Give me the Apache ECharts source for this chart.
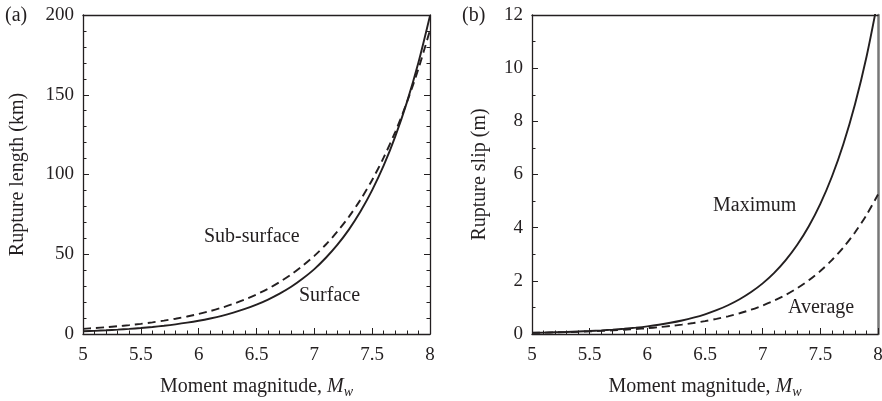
<!DOCTYPE html>
<html>
<head>
<meta charset="utf-8">
<script src="https://cdn.jsdelivr.net/npm/echarts@6/dist/echarts.min.js"></script>
<style>html,body{margin:0;padding:0;background:#fff;}#c{width:882px;height:401px;}</style>
</head>
<body>
<div id="c"></div>
<script>
const magnitudes = [5.0,5.1,5.2,5.3,5.4,5.5,5.6,5.7,5.8,5.9,6.0,6.1,6.2,6.3,6.4,6.5,6.6,6.7,6.8,6.9,7.0,7.1,7.2,7.3,7.4,7.5,7.6,7.7,7.8,7.9,8.0];
const surfaceLength = [1.70,1.99,2.33,2.74,3.21,3.76,4.41,5.16,6.05,7.10,8.32,9.75,11.4,13.4,15.7,18.4,21.6,25.3,29.6,34.8,40.7,47.8,56.0,65.6,76.9,90.2,105.7,123.9,145.2,170.2,199.5];
const subsurfaceLength = [3.24,3.71,4.25,4.86,5.57,6.38,7.31,8.38,9.59,11.0,12.6,14.4,16.5,18.9,21.7,24.8,28.4,32.6,37.3,42.8,49.0,56.1,64.3,73.6,84.3,96.6,110.7,126.8,145.2,166.3,190.5];
const maxSlip = [0.044,0.053,0.064,0.077,0.093,0.112,0.136,0.164,0.198,0.239,0.288,0.348,0.421,0.508,0.614,0.741,0.895,1.081,1.306,1.578,1.905,2.301,2.780,3.357,4.055,4.898,5.916,7.145,8.630,10.42,12.59];
const avgSlip = [0.045,0.052,0.061,0.072,0.084,0.099,0.116,0.136,0.159,0.187,0.219,0.256,0.301,0.352,0.413,0.484,0.568,0.665,0.780,0.914,1.072,1.256,1.472,1.726,2.023,2.371,2.780,3.258,3.819,4.477,5.248];

const FONT = '"Liberation Serif","DejaVu Serif",serif';
const INK = '#231f20';
const FS = 20;
const TICK_FS = 19;
const pairs = arr => magnitudes.map((m, i) => [m, arr[i]]);

const xName = 'Moment magnitude, {i|M}{s|w}';
const xNameStyle = {
  fontFamily: FONT, fontSize: FS, color: INK,
  rich: {
    i: {fontFamily: FONT, fontSize: FS, fontStyle: 'italic', color: INK},
    s: {fontFamily: FONT, fontSize: 14, fontStyle: 'italic', color: INK, padding: [11, 0, 0, 0]}
  }
};
function bottomX(gi) {
  return {
    type: 'value', gridIndex: gi, min: 5, max: 8, interval: 0.5, position: 'bottom',
    name: xName, nameLocation: 'middle', nameGap: 40, nameTextStyle: xNameStyle,
    axisLine: {show: true, onZero: false, lineStyle: {color: INK, width: 1.3}},
    axisTick: {show: true, inside: true, length: 6, lineStyle: {color: INK, width: 1}},
    minorTick: {show: true, splitNumber: 5, length: 3.5, lineStyle: {color: INK, width: 1}},
    axisLabel: {fontFamily: FONT, fontSize: TICK_FS, color: INK, margin: 12},
    splitLine: {show: false}
  };
}
function topX(gi) {
  return {
    type: 'value', gridIndex: gi, min: 5, max: 8, position: 'top',
    axisLine: {show: true, onZero: false, lineStyle: {color: INK, width: 1.3}},
    axisTick: {show: false}, axisLabel: {show: false}, splitLine: {show: false}
  };
}
function leftY(gi, max, interval, minorSplit, name, gap) {
  return {
    type: 'value', gridIndex: gi, min: 0, max: max, interval: interval, position: 'left',
    name: name, nameLocation: 'middle', nameGap: gap,
    nameTextStyle: {fontFamily: FONT, fontSize: FS, color: INK},
    axisLine: {show: true, onZero: false, lineStyle: {color: INK, width: 1.3}},
    axisTick: {show: true, inside: true, length: 6, lineStyle: {color: INK, width: 1}},
    minorTick: {show: true, splitNumber: minorSplit, length: 3.5, lineStyle: {color: INK, width: 1}},
    axisLabel: {fontFamily: FONT, fontSize: TICK_FS, color: INK, margin: 9},
    splitLine: {show: false}
  };
}
function rightY(gi, max, interval, minorSplit, ticks, color) {
  return {
    type: 'value', gridIndex: gi, min: 0, max: max, interval: interval, position: 'right',
    axisLine: {show: true, onZero: false, lineStyle: {color: color, width: ticks ? 1.3 : 2.5}},
    axisTick: {show: ticks, inside: true, length: 6, lineStyle: {color: INK, width: 1}},
    minorTick: {show: ticks, splitNumber: minorSplit, length: 3.5, lineStyle: {color: INK, width: 1}},
    axisLabel: {show: false}, splitLine: {show: false}
  };
}
function line(name, data, xi, yi, dashed) {
  return {
    name: name, type: 'line', xAxisIndex: xi, yAxisIndex: yi, data: pairs(data),
    showSymbol: false, smooth: 0.3, clip: true, silent: true,
    lineStyle: {color: INK, width: 1.9, type: dashed ? [8, 5] : 'solid'}
  };
}
const textStyle = {fontFamily: FONT, fontSize: FS, fill: INK};
const chart = echarts.init(document.getElementById('c'));
chart.setOption({
  animation: false,
  backgroundColor: '#fff',
  grid: [
    {left: 83, right: 452, top: 15, bottom: 67, containLabel: false, outerBoundsMode: 'none'},
    {left: 532, right: 4, top: 15, bottom: 67, containLabel: false, outerBoundsMode: 'none'}
  ],
  xAxis: [bottomX(0), topX(0), bottomX(1), topX(1)],
  yAxis: [
    leftY(0, 200, 50, 5, 'Rupture length (km)', 55),
    rightY(0, 200, 50, 5, true, INK),
    leftY(1, 12, 2, 2, 'Rupture slip (m)', 42),
    rightY(1, 12, 2, 2, false, '#777')
  ],
  series: [
    line('Surface', surfaceLength, 0, 0, false),
    line('Sub-surface', subsurfaceLength, 0, 0, true),
    line('Maximum', maxSlip, 2, 2, false),
    line('Average', avgSlip, 2, 2, true)
  ],
  graphic: [
    {type: 'text', left: 5, top: 6, style: Object.assign({text: '(a)'}, textStyle)},
    {type: 'text', left: 462, top: 6, style: Object.assign({text: '(b)'}, textStyle)},
    {type: 'text', left: 204, top: 227, style: Object.assign({text: 'Sub-surface'}, textStyle)},
    {type: 'text', left: 299, top: 286, style: Object.assign({text: 'Surface'}, textStyle)},
    {type: 'text', left: 713, top: 196, style: Object.assign({text: 'Maximum'}, textStyle)},
    {type: 'text', left: 788, top: 298, style: Object.assign({text: 'Average'}, textStyle)}
  ]
});
</script>
</body>
</html>
